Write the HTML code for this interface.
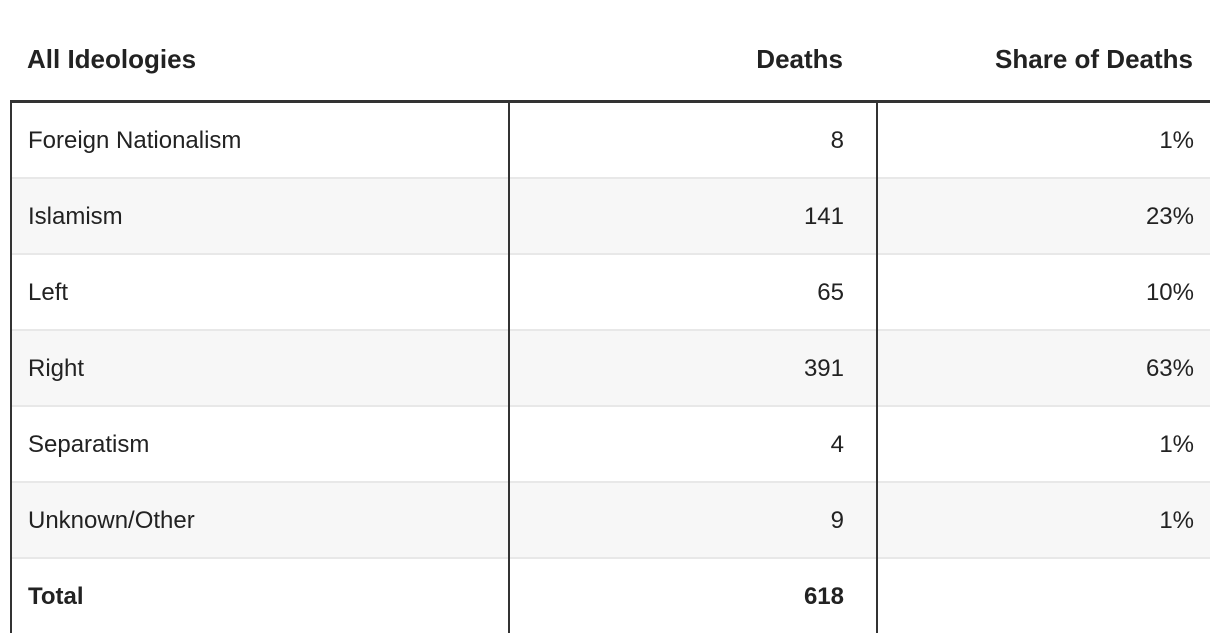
<!DOCTYPE html>
<html><head><meta charset="utf-8"><style>
body{margin:0;width:1220px;height:644px;background:#fff;font-family:"Liberation Sans",sans-serif;color:#222;position:relative;overflow:hidden}
.a{position:absolute}
.h{font-weight:bold;font-size:26px;top:44px}
.row{position:absolute;left:11px;width:1199px;height:76px}
.t{position:absolute;font-size:24px;line-height:76px;top:0}
.l{left:17px}.d{right:366px}.s{right:16px}
.v{position:absolute;width:2px;background:#333;top:102px;height:531px}
</style></head><body>
<div class="a h" style="left:27px">All Ideologies</div>
<div class="a h" style="right:377px">Deaths</div>
<div class="a h" style="right:27px">Share of Deaths</div>
<div id="rows"></div>
<div class="a" style="left:10px;top:100px;width:1200px;height:3px;background:#333"></div>
<div class="v" style="left:10px"></div>
<div class="v" style="left:508px"></div>
<div class="v" style="left:876px"></div>
<script>
const labels=["Foreign Nationalism","Islamism","Left","Right","Separatism","Unknown/Other","Total"];
const deaths=["8","141","65","391","4","9","618"];
const shares=["1%","23%","10%","63%","1%","1%",""];
const c=document.getElementById('rows');
labels.forEach((lab,i)=>{
 const r=document.createElement('div');
 r.className='row';
 
 
 r.style.top=(103+i*76)+'px';
 r.style.background=(i%2==1)?'#f7f7f7':'#fff';
 if(i>0) r.style.borderTop='2px solid #e8e8e8';
 if(i>0){r.style.top=(101+i*76)+'px';}
 const bold=i==labels.length-1?'font-weight:bold;':'';
 const a=document.createElement('div');a.className='t l';a.style.cssText=bold;a.textContent=lab;
 
 
 const b=document.createElement('div');b.className='t d';b.style.cssText=bold;b.textContent=deaths[i];
 
 
 const s=document.createElement('div');s.className='t s';s.textContent=shares[i];
 
 
 r.append(a,b,s);c.appendChild(r);
});
</script>
</body></html>
